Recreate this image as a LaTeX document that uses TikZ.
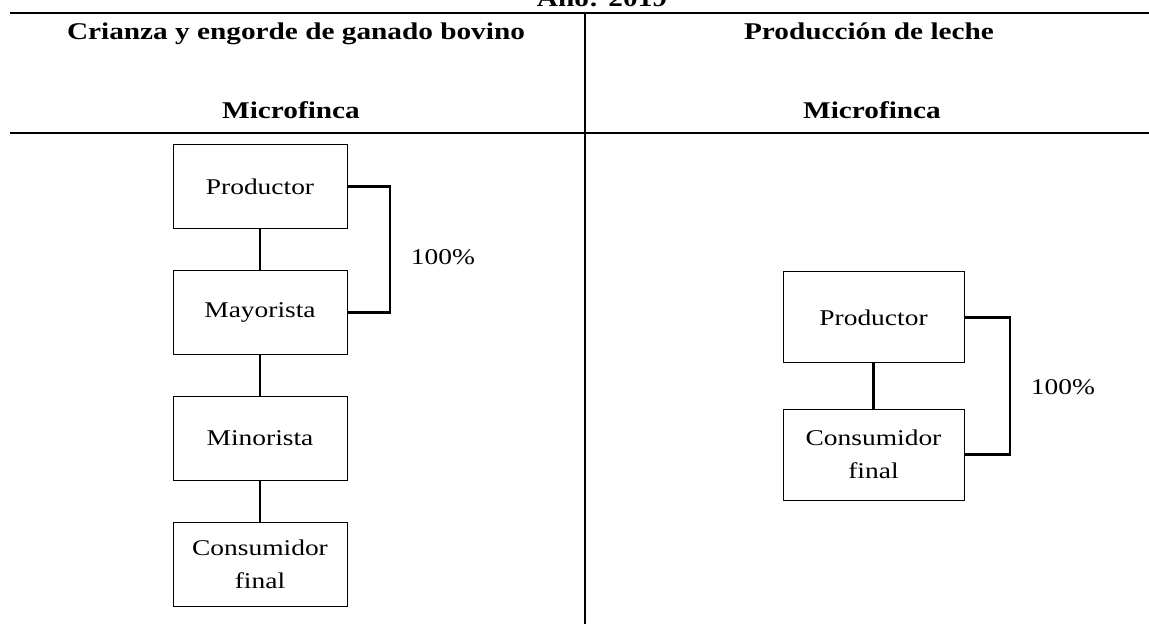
\documentclass[tikz,border=0pt]{standalone}
\usepackage{fontspec}
\setmainfont{Liberation Serif}[FakeStretch=1.22]
\begin{document}
\begin{tikzpicture}[x=1pt,y=-1pt,
  box/.style={draw, line width=1pt, inner sep=0pt, align=center,
    font=\fontsize{22.5}{33}\selectfont},
  lbox/.style={box, minimum width=174pt, minimum height=84pt},
  rbox/.style={box, minimum width=181pt, minimum height=91pt},
  link/.style={line width=2.2pt},
  tablerule/.style={line width=1.8pt},
  head/.style={anchor=base, inner sep=0pt, font=\fontsize{24}{28}\selectfont\bfseries},
  pct/.style={inner sep=0pt, font=\fontsize{22.5}{26}\selectfont}]
\useasboundingbox (0,0) rectangle (1149,628);
% table frame
\node[head] (ano) at (602,7) {Año: 2019};
\coordinate (tl) at (10,13);
\coordinate (tr) at (1149,13);
\coordinate (ml) at (10,133);
\coordinate (mr) at (1149,133);
\coordinate (dt) at (585,13);
\coordinate (db) at (585,624);
\draw[tablerule] (tl) -- (tr);
\draw[tablerule] (ml) -- (mr);
\draw[line width=1.4pt] (dt) -- (db);
% headers
\node[head] (h1) at (296,40) {Crianza y engorde de ganado bovino};
\node[head] (h2) at (869,40) {Producción de leche};
\node[head] (m1) at (291,119) {Microfinca};
\node[head] (m2) at (872,119) {Microfinca};
% left chain
\node[lbox] (lp) at (260,186.5) {Productor};
\node[lbox] (lm) at (260,312.5) {Mayorista};
\node[lbox] (ln) at (260,438.5) {Minorista};
\node[lbox] (lc) at (260,564) {Consumidor\\final};
\draw[link] (lp) -- (lm);
\draw[link] (lm) -- (ln);
\draw[link] (ln) -- (lc);
\coordinate (lb) at (390,186.5);
\draw[link] (lp.east) -- (lb) |- (lm.east);
\node[pct] (lpct) at (443,257) {100\%};
% right chain
\node[rbox] (rp) at (873.5,317.5) {Productor};
\node[rbox] (rc) at (873.5,454.5) {Consumidor\\final};
\draw[link] (rp) -- (rc);
\coordinate (rb) at (1010,317.5);
\draw[link] (rp.east) -- (rb) |- (rc.east);
\node[pct] (rpct) at (1063,387) {100\%};
\end{tikzpicture}
\end{document}
